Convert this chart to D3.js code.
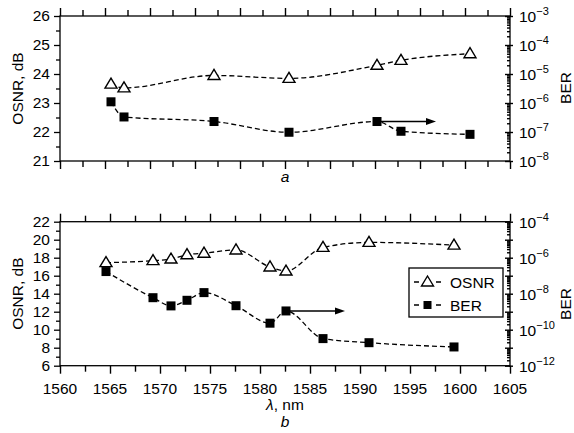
<!DOCTYPE html>
<html>
<head>
<meta charset="utf-8">
<script src="https://cdn.jsdelivr.net/npm/d3@7"></script>
<style>
  body { margin: 0; background: #fff; }
  svg { font-family: "Liberation Sans", Arial, sans-serif; }
</style>
</head>
<body>
<script>
// Panel a: wavelengths, OSNR (dB) and BER
const aWave = [1565.1, 1566.4, 1575.4, 1582.9, 1591.7, 1594.1, 1601.0];
const aOsnr = [23.65, 23.52, 23.95, 23.85, 24.3, 24.47, 24.7];
const aBer = [1.1e-6, 3.3e-7, 2.3e-7, 9.8e-8, 2.3e-7, 1.06e-7, 8.3e-8];

// Panel b
const bWave = [1564.6, 1569.3, 1571.1, 1572.7, 1574.4, 1577.6, 1581.0, 1582.6, 1586.3, 1590.9, 1599.4];
const bOsnr = [17.45, 17.67, 17.85, 18.33, 18.5, 18.86, 16.97, 16.52, 19.15, 19.7, 19.4];
const bBer = [1.7e-7, 6e-9, 2.1e-9, 4.3e-9, 1.15e-8, 2.15e-9, 2.3e-10, 1.1e-9, 3.2e-11, 1.9e-11, 1.1e-11];

// Tick values
const xTicksA = d3.range(0, 21).map(i => 1560 + i * 2.25);
const xTicksB = d3.range(0, 19).map(i => 1560 + i * 2.5);
const xLabelsB = [1560, 1565, 1570, 1575, 1580, 1585, 1590, 1595, 1600, 1605];
const yLabelsA = [21, 22, 23, 24, 25, 26];
const yLabelsB = [6, 8, 10, 12, 14, 16, 18, 20, 22];
const berExpA = [-8, -7, -6, -5, -4, -3];
const berExpB = [-12, -10, -8, -6, -4];

const W = 574, H = 433;
const FS = 15.5;
const svg = d3.select("body").append("svg").attr("width", W).attr("height", H);

const x = d3.scaleLinear().domain([1560, 1605]).range([60, 510]);

function minorLog(lo, hi) {
  const out = [];
  for (let e = lo; e < hi; e++) {
    for (let m = 2; m <= 9; m++) out.push(m * Math.pow(10, e));
  }
  return out;
}

function drawPanel(opt) {
  const { top, bottom, yL, yR } = opt;
  const g = svg.append("g");

  // frame
  g.append("rect")
    .attr("x", 60).attr("y", top)
    .attr("width", 450).attr("height", bottom - top)
    .attr("fill", "none").attr("stroke", "#000").attr("stroke-width", 1.3);

  // x ticks (top and bottom, outward)
  opt.xTicks.forEach((t, i) => {
    const len = i % 2 === 0 ? 8 : 6;
    g.append("g").attr("transform", `translate(0,${top})`)
      .call(d3.axisTop(x).tickValues([t]).tickSize(len).tickFormat(""))
      .call(a => a.select(".domain").remove());
    g.append("g").attr("transform", `translate(0,${bottom})`)
      .call(d3.axisBottom(x).tickValues([t]).tickSize(len).tickFormat(""))
      .call(a => a.select(".domain").remove());
  });
  g.selectAll(".tick line").attr("stroke-width", 1.4);

  // left axis
  const left = g.append("g").attr("transform", "translate(60,0)");
  left.append("g")
    .call(d3.axisLeft(yL).tickValues(opt.yMinor).tickSize(4).tickFormat(""))
    .call(a => a.select(".domain").remove());
  left.append("g")
    .call(d3.axisLeft(yL).tickValues(opt.yLabels).tickSize(6).tickPadding(4).tickFormat(d3.format("d")))
    .call(a => a.select(".domain").remove())
    .call(a => a.selectAll("text").attr("font-size", FS).attr("fill", "#000")
      .attr("font-family", "Liberation Sans, Arial, sans-serif"));
  left.selectAll("line").attr("stroke-width", 1.3);

  // right log axis
  const right = g.append("g").attr("transform", "translate(510,0)");
  const [lo, hi] = opt.berRange;
  right.append("g")
    .call(d3.axisLeft(yR).tickValues(minorLog(lo, hi)).tickSize(3).tickFormat(""))
    .call(a => a.select(".domain").remove());
  const majors = d3.range(lo, hi + 1).map(e => Math.pow(10, e));
  right.append("g")
    .call(d3.axisLeft(yR).tickValues(majors).tickSize(5).tickFormat(""))
    .call(a => a.select(".domain").remove());
  right.append("g")
    .call(d3.axisRight(yR).tickValues(majors).tickSize(3).tickFormat(""))
    .call(a => a.select(".domain").remove());
  right.selectAll("line").attr("stroke-width", 1.4);

  opt.berLabels.forEach(e => {
    const t = right.append("text")
      .attr("x", 9).attr("y", yR(Math.pow(10, e)) + 6)
      .attr("font-size", FS);
    t.append("tspan").text("10");
    t.append("tspan").attr("dy", -7).attr("font-size", 11).text("\u2212" + Math.abs(e));
  });

  // axis titles
  svg.append("text")
    .attr("transform", `translate(23,${(top + bottom) / 2}) rotate(-90)`)
    .attr("text-anchor", "middle").attr("font-size", FS)
    .text("OSNR, dB");
  svg.append("text")
    .attr("transform", `translate(571,${opt.berTitleY}) rotate(-90)`)
    .attr("text-anchor", "middle").attr("font-size", FS)
    .text("BER");

  // series
  const lineL = d3.line().x(d => x(d[0])).y(d => yL(d[1])).curve(d3.curveMonotoneX);
  const lineR = d3.line().x(d => x(d[0])).y(d => yR(d[1])).curve(d3.curveMonotoneX);
  const osnr = opt.wave.map((w, i) => [w, opt.osnr[i]]);
  const ber = opt.wave.map((w, i) => [w, opt.ber[i]]);

  g.append("path").attr("d", lineL(osnr))
    .attr("fill", "none").attr("stroke", "#000").attr("stroke-width", 1.3)
    .attr("stroke-dasharray", "5,3");
  g.append("path").attr("d", lineR(ber))
    .attr("fill", "none").attr("stroke", "#000").attr("stroke-width", 1.3)
    .attr("stroke-dasharray", "5,3");

  // arrow
  const i0 = opt.arrowFrom;
  const ay = yR(opt.ber[i0]);
  g.append("line")
    .attr("x1", x(opt.wave[i0])).attr("y1", ay)
    .attr("x2", x(opt.arrowTo) - 6).attr("y2", ay)
    .attr("stroke", "#000").attr("stroke-width", 1.5);
  g.append("path")
    .attr("d", `M${x(opt.arrowTo)},${ay} l-10,-3.5 l0,7 z`)
    .attr("fill", "#000");

  g.selectAll(".sq").data(ber).enter().append("rect")
    .attr("x", d => x(d[0]) - 4.5).attr("y", d => yR(d[1]) - 4.5)
    .attr("width", 9).attr("height", 9).attr("fill", "#000");
  g.selectAll(".tri").data(osnr).enter().append("path")
    .attr("d", d => triangle(x(d[0]), yL(d[1])))
    .attr("fill", "#fff").attr("stroke", "#000").attr("stroke-width", 1.4);
}

function triangle(cx, cy) {
  return `M${cx},${cy - 6} L${cx + 6},${cy + 4} L${cx - 6},${cy + 4} Z`;
}

// panel a
drawPanel({
  top: 16, bottom: 161,
  yL: d3.scaleLinear().domain([21, 26]).range([161, 16]),
  yR: d3.scaleLog().domain([1e-8, 1e-3]).range([161, 16]),
  xTicks: xTicksA,
  yLabels: yLabelsA, yMinor: d3.range(21.5, 26, 1),
  berRange: [-8, -3], berLabels: berExpA, berTitleY: 88,
  wave: aWave, osnr: aOsnr, ber: aBer,
  arrowFrom: 4, arrowTo: 1597.6
});

// panel b
drawPanel({
  top: 221.7, bottom: 365.7,
  yL: d3.scaleLinear().domain([6, 22]).range([365.7, 221.7]),
  yR: d3.scaleLog().domain([1e-12, 1e-4]).range([365.7, 221.7]),
  xTicks: xTicksB,
  yLabels: yLabelsB, yMinor: d3.range(7, 22, 2),
  berRange: [-12, -4], berLabels: berExpB, berTitleY: 304,
  wave: bWave, osnr: bOsnr, ber: bBer,
  arrowFrom: 7, arrowTo: 1588.5
});

// x tick labels for panel b
svg.append("g").selectAll("text").data(xLabelsB).enter().append("text")
  .attr("x", d => x(d)).attr("y", 394)
  .attr("text-anchor", "middle").attr("font-size", FS)
  .text(d => d);

// panel captions
svg.append("text").attr("x", 285).attr("y", 182)
  .attr("text-anchor", "middle").attr("font-size", FS).attr("font-style", "italic").text("a");
const xl = svg.append("text").attr("x", 285).attr("y", 410)
  .attr("text-anchor", "middle").attr("font-size", FS);
xl.append("tspan").attr("font-style", "italic").text("\u03bb");
xl.append("tspan").text(", nm");
svg.append("text").attr("x", 285).attr("y", 427)
  .attr("text-anchor", "middle").attr("font-size", FS).attr("font-style", "italic").text("b");

// legend
const lg = svg.append("g");
lg.append("rect").attr("x", 409).attr("y", 268).attr("width", 94).attr("height", 49)
  .attr("fill", "#fff").attr("stroke", "#000").attr("stroke-width", 1.3);
[["OSNR", 282], ["BER", 305]].forEach(([name, yy], k) => {
  lg.append("line").attr("x1", 414).attr("x2", 441).attr("y1", yy).attr("y2", yy)
    .attr("stroke", "#000").attr("stroke-width", 1.3).attr("stroke-dasharray", "5,17");
  if (k === 0) {
    lg.append("path").attr("d", triangle(427.5, yy)).attr("fill", "#fff")
      .attr("stroke", "#000").attr("stroke-width", 1.4);
  } else {
    lg.append("rect").attr("x", 423.5).attr("y", yy - 4).attr("width", 8).attr("height", 8)
      .attr("fill", "#000");
  }
  lg.append("text").attr("x", 450).attr("y", yy + 5.5).attr("font-size", FS).text(name);
});
</script>
</body>
</html>
